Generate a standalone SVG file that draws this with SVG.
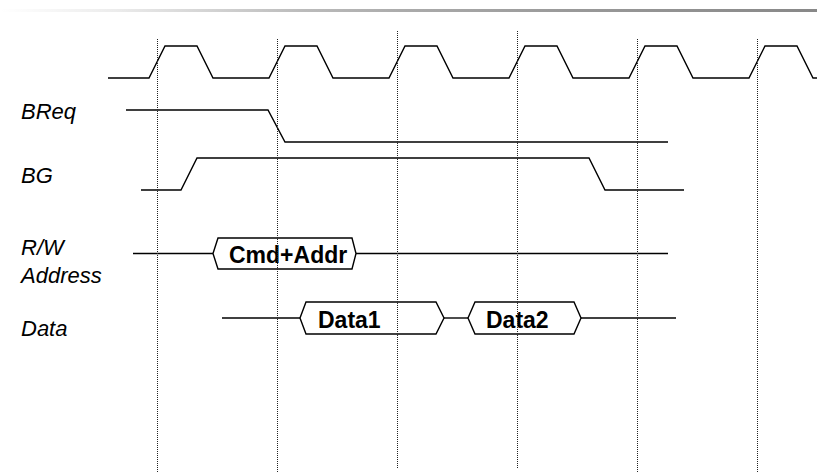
<svg xmlns="http://www.w3.org/2000/svg" width="817" height="473" viewBox="0 0 817 473">
  <defs>
    <linearGradient id="bar" x1="0" y1="0" x2="817" y2="0" gradientUnits="userSpaceOnUse">
      <stop offset="0" stop-color="#ffffff"/>
      <stop offset="0.14" stop-color="#ececec"/>
      <stop offset="0.37" stop-color="#bbbbbb"/>
      <stop offset="0.5" stop-color="#aaaaaa"/>
      <stop offset="0.7" stop-color="#999999"/>
      <stop offset="1" stop-color="#888888"/>
    </linearGradient>
  </defs>
  <style>
    .sig { fill: none; stroke: #000; stroke-width: 1.4; stroke-linejoin: miter; }
    .bus { fill: #fff; stroke: #000; stroke-width: 1.4; }
    .grid { stroke: #222; stroke-width: 1; stroke-dasharray: 1 1; }
    .lbl { font-family: "Liberation Sans", Arial, sans-serif; font-style: italic; font-size: 22px; fill: #000; }
    .btxt { font-family: "Liberation Sans", Arial, sans-serif; font-weight: bold; font-size: 23px; fill: #000; }
  </style>
  <rect x="0" y="9" width="817" height="3" fill="url(#bar)"/>

  <g id="labels">
    <text class="lbl" x="21" y="119">BReq</text>
    <text class="lbl" x="21" y="183">BG</text>
    <text class="lbl" x="21" y="255">R/W</text>
    <text class="lbl" x="21" y="283">Address</text>
    <text class="lbl" x="21" y="336">Data</text>
  </g>

  <g id="clock">
    <path class="sig" d="M108,78 L149,78 L165,46 L197,46 L213,78 L269,78 L285,46 L317,46 L333,78 L389,78 L405,46 L437,46 L453,78 L509,78 L525,46 L557,46 L573,78 L629,78 L645,46 L677,46 L693,78 L749,78 L765,46 L797,46 L813,78 L817,78"/>
  </g>
  <g id="breq">
    <path class="sig" d="M126,110 L268,110 L285,142 L668,142"/>
  </g>
  <g id="bg">
    <path class="sig" d="M141,190 L181,190 L197,158 L589,158 L605,190 L684,190"/>
  </g>
  <g id="rw-address">
    <path class="sig" d="M133,253.5 L213,253.5"/>
    <polygon class="bus" points="213,253.5 218,238 352,238 356,253.5 352,269 218,269"/>
    <path class="sig" d="M356,253.5 L668,253.5"/>
    <text class="btxt" x="229" y="263">Cmd+Addr</text>
  </g>
  <g id="data">
    <path class="sig" d="M222,318 L300,318"/>
    <polygon class="bus" points="300,318 306,302 436,302 444,318 436,334 306,334"/>
    <text class="btxt" x="318" y="328">Data1</text>
    <path class="sig" d="M444,318 L468,318"/>
    <polygon class="bus" points="468,318 475,302 574,302 581,318 574,334 475,334"/>
    <text class="btxt" x="486" y="328">Data2</text>
    <path class="sig" d="M581,318 L676,318"/>
  </g>

  <g id="gridlines">
    <line class="grid" x1="157.5" y1="39" x2="157.5" y2="472"/>
    <line class="grid" x1="277.5" y1="39" x2="277.5" y2="472"/>
    <line class="grid" x1="397.5" y1="31" x2="397.5" y2="469"/>
    <line class="grid" x1="517.5" y1="31" x2="517.5" y2="469"/>
    <line class="grid" x1="637.5" y1="39" x2="637.5" y2="472"/>
    <line class="grid" x1="757.5" y1="39" x2="757.5" y2="472"/>
  </g>
</svg>
